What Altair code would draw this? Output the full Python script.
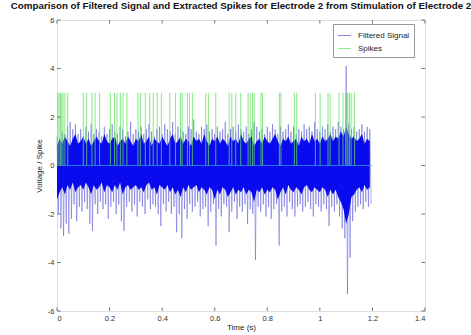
import altair as alt
import pandas as pd

# ---- data ----
bin_width = 0.01  # seconds per envelope bin, signal spans 0 .. 1.2 s
sig_hi = [1.2,1.1,1.4,1.3,1.6,1.8,1.5,1.7,1.3,1.5,
          1.2,1.6,1.4,1.7,1.3,1.5,1.4,1.2,1.6,1.3,
          1.5,1.7,1.4,1.3,1.6,1.5,1.2,1.4,1.8,1.3,
          1.5,1.4,1.6,1.3,1.5,1.7,1.4,1.2,1.5,1.6,
          1.3,1.7,1.5,1.4,1.8,1.3,1.6,1.5,1.4,1.3,
          1.6,1.5,1.9,1.4,1.3,1.6,1.5,1.7,1.4,1.5,
          1.3,1.6,1.4,1.5,1.8,1.3,1.5,1.6,1.4,1.7,
          1.5,1.4,1.6,1.3,1.5,1.8,1.6,1.4,1.5,1.3,
          1.6,1.4,1.7,1.5,1.3,1.6,1.4,1.5,1.7,1.4,
          1.6,1.3,1.5,1.4,1.7,1.5,1.6,1.4,1.8,1.5,
          1.4,1.6,1.5,1.7,1.4,1.6,1.5,1.8,1.6,1.5,
          4.1,1.7,1.5,1.6,1.4,1.5,1.7,1.4,1.6,1.5]
sig_lo = [-2.0,-2.6,-2.9,-2.4,-2.8,-2.2,-1.6,-2.3,-1.7,-1.9,
          -1.5,-1.8,-2.4,-2.7,-1.6,-2.0,-1.5,-1.8,-1.6,-2.2,
          -1.7,-1.5,-2.0,-1.6,-2.3,-2.7,-1.7,-1.5,-1.9,-1.6,
          -2.1,-1.5,-1.7,-2.0,-1.4,-1.8,-1.6,-1.7,-2.0,-2.5,
          -1.6,-1.9,-1.5,-2.0,-1.7,-2.75,-2.0,-3.0,-1.8,-2.2,
          -1.6,-1.9,-1.7,-1.5,-2.1,-1.8,-1.7,-2.5,-1.9,-1.6,
          -3.3,-1.8,-2.1,-1.6,-1.7,-2.75,-1.9,-1.5,-2.2,-1.7,
          -1.9,-1.6,-2.4,-1.8,-2.0,-3.9,-1.7,-1.9,-1.6,-2.1,
          -1.7,-2.2,-1.8,-1.6,-3.3,-1.9,-1.7,-2.1,-1.5,-1.8,
          -2.1,-1.7,-1.6,-1.9,-1.7,-1.5,-1.8,-2.1,-1.6,-1.7,
          -1.9,-1.6,-1.8,-2.5,-1.7,-1.9,-1.6,-2.1,-2.6,-3.0,
          -5.3,-3.8,-2.3,-1.9,-1.7,-1.6,-1.8,-1.5,-1.7,-1.6]

core_hi = [0.8,1.1,0.9,1.2,1.0,0.8,1.1,1.3,0.9,1.0,
           1.2,0.9,1.1,0.8,1.0,1.2,1.0,0.9,1.3,1.0,
           0.9,1.1,1.2,0.8,1.0,1.1,0.9,1.2,1.0,0.8,
           1.1,1.0,1.3,0.9,1.0,1.2,0.8,1.1,1.0,0.9,
           1.2,1.0,0.8,1.1,1.3,0.9,1.0,1.2,0.9,1.1,
           1.0,0.8,1.2,1.0,1.1,0.9,1.3,1.0,0.8,1.1,
           1.0,1.2,0.9,1.1,1.0,0.8,1.2,1.0,1.1,0.9,
           1.3,1.0,0.9,1.1,1.2,0.8,1.0,1.1,0.9,1.2,
           1.0,0.9,1.1,1.3,1.0,0.8,1.1,1.0,1.2,0.9,
           1.0,1.1,0.8,1.2,1.0,1.1,0.9,1.3,1.0,1.1,
           0.9,1.2,1.0,1.1,1.3,1.0,1.2,1.1,1.4,1.2,
           1.6,1.3,1.1,1.2,1.0,1.1,1.3,0.9,1.1,1.0]
core_lo = [-1.4,-1.1,-0.9,-1.2,-0.8,-1.0,-0.7,-1.1,-0.9,-0.8,
           -1.0,-0.7,-0.9,-1.2,-0.8,-1.0,-0.9,-0.7,-1.1,-0.8,
           -0.9,-1.1,-0.8,-1.0,-0.7,-1.2,-0.9,-0.8,-1.0,-0.9,
           -0.8,-1.0,-0.9,-1.1,-0.8,-0.7,-1.0,-0.9,-1.2,-0.8,
           -0.9,-1.0,-0.8,-1.1,-0.9,-1.2,-1.0,-1.3,-0.9,-1.1,
           -0.8,-1.0,-0.9,-0.8,-1.1,-0.9,-1.0,-1.2,-0.9,-1.0,
           -1.4,-1.0,-1.2,-0.9,-1.0,-1.3,-1.1,-0.9,-1.2,-1.0,
           -1.1,-0.9,-1.2,-1.0,-1.1,-1.5,-1.0,-1.1,-0.9,-1.2,
           -1.0,-1.1,-0.9,-1.0,-1.4,-1.1,-0.9,-1.2,-0.8,-1.0,
           -1.1,-0.9,-1.0,-1.2,-0.9,-0.8,-1.0,-1.1,-0.9,-1.0,
           -1.1,-0.9,-1.0,-1.3,-1.0,-1.2,-1.0,-1.3,-1.5,-1.8,
           -2.4,-2.0,-1.3,-1.2,-1.0,-0.9,-1.1,-0.8,-1.0,-0.9]

spike_times = [0.003,0.008,0.013,0.018,0.023,0.030,0.041,0.100,0.113,0.133,
               0.145,0.162,0.203,0.219,0.228,0.241,0.251,0.266,0.308,0.317,
               0.336,0.353,0.366,0.381,0.397,0.429,0.451,0.470,0.476,0.496,
               0.504,0.515,0.566,0.576,0.604,0.655,0.665,0.680,0.699,0.727,
               0.735,0.744,0.750,0.776,0.782,0.846,0.852,0.903,0.912,0.983,
               1.001,1.031,1.039,1.073,1.088,1.098,1.103,1.107,1.113,1.119,1.132]
spike_height = 3
signal_end = 1.2

x_ticks = [0, 0.2, 0.4, 0.6, 0.8, 1, 1.2, 1.4]
y_ticks = [-6, -4, -2, 0, 2, 4, 6]
series_names = ["Filtered Signal", "Spikes"]
series_colors = ["#5555d8", "#5ee05e"]

# ---- tables ----
sig_rows = []
for i, (h, l) in enumerate(zip(sig_hi, sig_lo)):
    t = i * bin_width
    sig_rows.append({"t": round(t, 4), "v": h, "series": "Filtered Signal"})
    sig_rows.append({"t": round(t + bin_width / 2, 4), "v": l, "series": "Filtered Signal"})
sig_df = pd.DataFrame(sig_rows)

core_df = pd.DataFrame({"t": [round(i * bin_width, 4) for i in range(len(core_hi))],
                        "hi": core_hi, "lo": core_lo})
spk_df = pd.DataFrame({"t": spike_times, "v0": 0, "v1": spike_height, "series": "Spikes"})
base_df = pd.DataFrame({"t0": [0.0], "t1": [signal_end], "v": [0]})

xs = alt.Scale(domain=[0, 1.4], nice=False, zero=False)
ys = alt.Scale(domain=[-6, 6], nice=False, zero=False)
font = "Liberation Sans"

xaxis = alt.Axis(values=x_ticks, labelExpr="'' + datum.value", ticks=False, domain=False,
                 grid=False, labelFontSize=7.5, labelColor="#333", labelPadding=3,
                 title="Time (s)", titleFontSize=8, titleFontWeight="normal",
                 titleColor="#222", titlePadding=2, labelFont=font, titleFont=font)
yaxis = alt.Axis(values=y_ticks, labelExpr="'' + datum.value", ticks=False, domain=False,
                 grid=False, labelFontSize=7.5, labelColor="#333", labelPadding=3,
                 title="Voltage / Spike", titleFontSize=8, titleFontWeight="normal",
                 titleColor="#222", titlePadding=4, labelFont=font, titleFont=font)

color = alt.Color("series:N", scale=alt.Scale(domain=series_names, range=series_colors),
                  legend=alt.Legend(title=None, orient="none", legendX=276, legendY=4,
                                    symbolType="stroke", symbolSize=170, symbolStrokeWidth=1,
                                    labelFontSize=8, labelFont=font, labelColor="#222",
                                    strokeColor="#999", fillColor="white", padding=4,
                                    rowPadding=1, labelOffset=6))

sig_line = alt.Chart(sig_df).mark_line(strokeWidth=0.7, opacity=0.7).encode(
    x=alt.X("t:Q", scale=xs, axis=xaxis),
    y=alt.Y("v:Q", scale=ys, axis=yaxis),
    color=color,
)
core = alt.Chart(core_df).mark_area(color="#0000ee", opacity=0.95).encode(
    x="t:Q", y="lo:Q", y2="hi:Q")
baseline = alt.Chart(base_df).mark_rule(color="#33bbdd", opacity=0.6, strokeWidth=1).encode(
    x="t0:Q", x2="t1:Q", y="v:Q")
spikes = alt.Chart(spk_df).mark_rule(strokeWidth=1, opacity=0.75).encode(
    x="t:Q", y="v0:Q", y2="v1:Q", color=color)

tick_len_y = 0.15
tick_len_x = 0.014
xt_df = pd.DataFrame({"t": x_ticks})
yt_df = pd.DataFrame({"v": y_ticks})
tick_col = "#777"
bt = alt.Chart(xt_df).mark_rule(color=tick_col).encode(
    x="t:Q", y=alt.datum(-6), y2=alt.datum(-6 + tick_len_y))
tt = alt.Chart(xt_df).mark_rule(color=tick_col).encode(
    x="t:Q", y=alt.datum(6), y2=alt.datum(6 - tick_len_y))
lt = alt.Chart(yt_df).mark_rule(color=tick_col).encode(
    y="v:Q", x=alt.datum(0), x2=alt.datum(tick_len_x))
rt = alt.Chart(yt_df).mark_rule(color=tick_col).encode(
    y="v:Q", x=alt.datum(1.4), x2=alt.datum(1.4 - tick_len_x))

chart = alt.layer(sig_line, core, baseline, spikes, bt, tt, lt, rt).properties(
    width=368, height=291,
    title=alt.Title("Comparison of Filtered Signal and Extracted Spikes for Electrode 2 from Stimulation of Electrode 2",
                    fontSize=9.8, font=font, fontWeight="bold", anchor="middle", offset=5,
                    color="#111"),
    autosize=alt.AutoSizeParams(type="none"),
    padding={"left": 57, "top": 20, "right": 46, "bottom": 24},
).configure_view(stroke="#888", strokeWidth=1).configure(background="white")

chart.save("out.html", embed_options={"renderer": "svg", "actions": False})
